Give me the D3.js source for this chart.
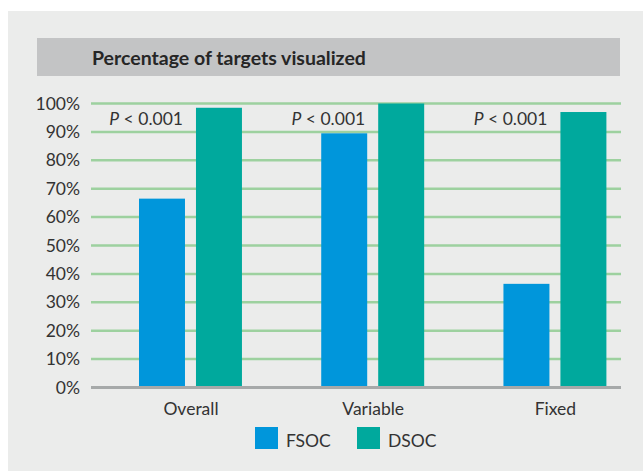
<!DOCTYPE html>
<html>
<head>
<meta charset="utf-8">
<script src="https://cdn.jsdelivr.net/npm/d3@7"></script>
<style>
  body { margin: 0; background: #fff; }
  svg { display: block; font-family: Lato, "Open Sans", sans-serif; }
</style>
</head>
<body>
<svg id="chart" width="643" height="471"></svg>
<script>
// data
let categories = ["Overall", "Variable", "Fixed"];
let seriesNames = ["FSOC", "DSOC"];
let fsocValues = [66.5, 89.5, 36.5];
let dsocValues = [98.5, 100, 97];
let pLabels = ["< 0.001", "< 0.001", "< 0.001"];
let yTicks = [0, 10, 20, 30, 40, 50, 60, 70, 80, 90, 100];
let title = "Percentage of targets visualized";

let colors = {FSOC: "#0096db", DSOC: "#00a99d"};
let textColor = "#333333";

let svg = d3.select("#chart");

// panel background + title band
svg.append("rect")
    .attr("x", 8).attr("y", 11)
    .attr("width", 635).attr("height", 460)
    .attr("fill", "#ebeceb");

svg.append("rect")
    .attr("x", 37).attr("y", 38)
    .attr("width", 583).attr("height", 38)
    .attr("fill", "#c3c4c5");

svg.append("text")
    .attr("x", 92).attr("y", 65)
    .attr("font-size", 19.5)
    .attr("font-weight", "bold")
    .attr("fill", "#262626")
    .text(title);

// scales
let yScale = d3.scaleLinear()
    .domain([0, 100])
    .range([387.5, 103.5]);

let x0 = d3.scaleBand()
    .domain(categories)
    .range([139, 606.4])
    .paddingInner(0.435)
    .paddingOuter(0);

let x1 = d3.scaleBand()
    .domain(seriesNames)
    .range([0, x0.bandwidth()])
    .paddingInner(0.193);

//draw gridlines
let grid = svg.append("g");
grid.selectAll("line")
    .data(yTicks.filter(d => d > 0))
    .enter().append("line")
    .attr("x1", 91).attr("x2", 621)
    .attr("y1", d => yScale(d)).attr("y2", d => yScale(d))
    .attr("stroke", "#9dd19f")
    .attr("stroke-width", 2.5);

//draw yAxis
let yAxis = d3.axisLeft(yScale)
    .tickValues(yTicks)
    .tickFormat(d => d + "%")
    .tickSize(0)
    .tickPadding(0);

let yg = svg.append("g")
    .attr("transform", "translate(80,0)")
    .call(yAxis);
yg.select(".domain").remove();
yg.selectAll("text")
    .attr("font-family", "Lato, sans-serif")
    .attr("font-size", 17.5)
    .attr("fill", textColor);

// bars
let rows = categories.map((c, i) => ({
    cat: c,
    values: [
        {name: "FSOC", value: fsocValues[i]},
        {name: "DSOC", value: dsocValues[i]}
    ]
}));

let groups = svg.append("g").selectAll("g")
    .data(rows)
    .enter().append("g")
    .attr("transform", d => "translate(" + x0(d.cat) + ",0)");

groups.selectAll("rect")
    .data(d => d.values)
    .enter().append("rect")
    .attr("x", d => x1(d.name))
    .attr("y", d => yScale(d.value))
    .attr("width", x1.bandwidth())
    .attr("height", d => yScale(0) - yScale(d.value))
    .attr("fill", d => colors[d.name]);

// p-value labels, right edge on the FSOC bar
let pText = groups.append("text")
    .attr("x", x1("FSOC") + x1.bandwidth() - 2)
    .attr("y", 125)
    .attr("text-anchor", "end")
    .attr("font-size", 17.5)
    .attr("fill", textColor);
pText.append("tspan").attr("font-style", "italic").text("P");
pText.append("tspan").text((d, i) => " " + pLabels[i]);

// baseline
svg.append("line")
    .attr("x1", 91).attr("x2", 621)
    .attr("y1", yScale(0)).attr("y2", yScale(0))
    .attr("stroke", "#a6a9a9")
    .attr("stroke-width", 3);

//draw xAxis labels
let xAxis = d3.axisBottom(
    d3.scaleOrdinal().domain(categories).range(categories.map(c => x0(c) + x0.bandwidth() / 2))
).tickSize(0).tickPadding(0);

let xg = svg.append("g")
    .attr("transform", "translate(0,403)")
    .call(xAxis);
xg.select(".domain").remove();
xg.selectAll("text")
    .attr("font-family", "Lato, sans-serif")
    .attr("font-size", 17.5)
    .attr("fill", textColor);

// legend
let legend = svg.append("g").selectAll("g")
    .data(seriesNames)
    .enter().append("g")
    .attr("transform", (d, i) => "translate(" + (255 + i * 102) + ",427)");

legend.append("rect")
    .attr("width", 23).attr("height", 22)
    .attr("fill", d => colors[d]);

legend.append("text")
    .attr("x", 31).attr("y", 19.5)
    .attr("font-size", 17.5)
    .attr("fill", textColor)
    .text(d => d);
</script>
</body>
</html>
